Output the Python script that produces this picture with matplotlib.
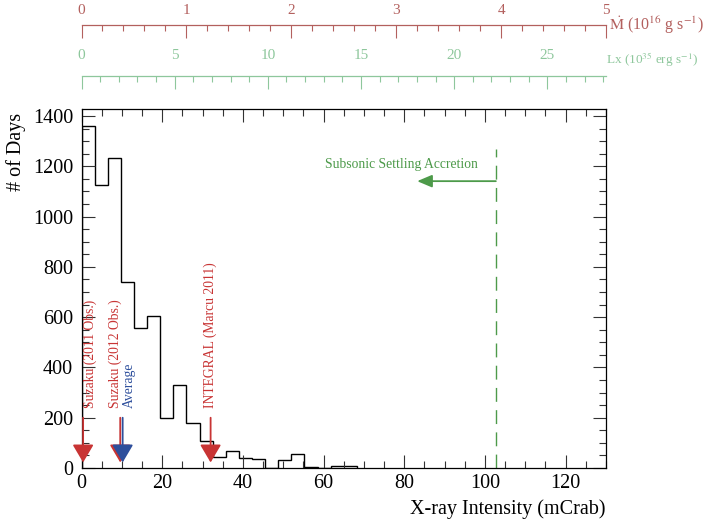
import numpy as np
import matplotlib
matplotlib.use("Agg")
import matplotlib.pyplot as plt
from matplotlib.ticker import MultipleLocator

plt.rcParams['font.family'] = ['Liberation Serif', 'DejaVu Serif']
plt.rcParams['mathtext.fontset'] = 'stix'

# ---- data ----
bin_width = 3.25
counts = [1360, 1124, 1232, 738, 558, 606, 200, 331, 178, 109,
          45, 69, 41, 36, 0, 33, 57, 2, 0, 9, 9]
edges = np.arange(len(counts) + 1) * bin_width

obs_x = [0.4, 9.6, 10.2, 32.0]
obs_labels = ["Suzaku (2011 Obs.)", "Suzaku (2012 Obs.)", "Average", "INTEGRAL (Marcu 2011)"]
obs_colors = ["#c83434", "#c83434", "#2e4f9c", "#c83434"]
obs_text_x = [2.2, 8.4, 11.9, 31.8]
arrow_tail_y = 200
arrow_tip_y = 22
text_bottom_y = 240

subsonic_limit = 102.7
subsonic_top = 1268
subsonic_arrow_y = 1141
subsonic_arrow_end = 83.2
subsonic_text = "Subsonic Settling Accretion"
subsonic_text_y = 1209

xlim = (0, 130)
ylim = (0, 1428)
mdot_lim = (0, 5)
lx_lim = (0, 28.15)

red_axis = "#b3605e"
green_axis = "#8ec79c"
green = "#4d9a4a"

fig = plt.figure(figsize=(7.03, 5.29), dpi=100)
L, R = 81.5 / 703, 606 / 703
B, T = 1 - 468 / 529, 1 - 109 / 529
ax = fig.add_axes([L, B, R - L, T - B])

ax.stairs(counts, edges, color='black', lw=1.0, baseline=0)
ax.set_xlim(*xlim)
ax.set_ylim(*ylim)
ax.xaxis.set_major_locator(MultipleLocator(20))
ax.xaxis.set_minor_locator(MultipleLocator(5))
ax.yaxis.set_major_locator(MultipleLocator(200))
ax.yaxis.set_minor_locator(MultipleLocator(50))
ax.tick_params(which='both', direction='in', top=True, right=True, width=0.8,
               labelsize=14.5, color='#333333')
ax.tick_params(which='major', length=9.4)
ax.tick_params(which='minor', length=5)
ax.tick_params(axis='x', pad=4.5)
ax.tick_params(axis='y', pad=6)
for s in ax.spines.values():
    s.set_linewidth(0.9)

# observation arrows
for x, lab, c, tx in zip(obs_x, obs_labels, obs_colors, obs_text_x):
    ax.annotate('', xy=(x, arrow_tip_y), xytext=(x, arrow_tail_y),
                arrowprops=dict(arrowstyle='-|>,head_length=11,head_width=6.5',
                                mutation_scale=1, color=c, lw=1.3,
                                shrinkA=0, shrinkB=0))
    ax.text(tx, text_bottom_y, lab, rotation=90, color=c, fontsize=9.8,
            ha='center', va='bottom')

# subsonic settling accretion
ax.vlines(subsonic_limit, 0, subsonic_top, color=green, lw=1.0,
          linestyles=(0, (10, 6)))
ax.annotate('', xy=(subsonic_arrow_end, subsonic_arrow_y),
            xytext=(subsonic_limit, subsonic_arrow_y),
            arrowprops=dict(arrowstyle='-|>,head_length=9,head_width=3.8',
                            mutation_scale=1, color=green, lw=1.3,
                            shrinkA=0, shrinkB=0))
ax.text(98.2, subsonic_text_y, subsonic_text, color=green, fontsize=9.8,
        ha='right', va='center')

fig.text(R, 1 - 509 / 529, "X-ray Intensity (mCrab)", ha='right', va='center',
         fontsize=14.5)
fig.text(16 / 703, 1 - 152 / 529, "# of Days", rotation=90, ha='center',
         va='center', fontsize=14.5)

# top axes: Mdot and Lx
def top_axis(yline, lim, major, minor, color, pad, majlen, minlen):
    h = 0.01
    a = fig.add_axes([L, yline - h, R - L, h])
    a.set_xlim(*lim)
    a.set_yticks([])
    for k in ['left', 'right', 'bottom']:
        a.spines[k].set_visible(False)
    a.spines['top'].set_color(color)
    a.spines['top'].set_linewidth(0.9)
    a.patch.set_visible(False)
    a.xaxis.tick_top()
    a.xaxis.set_major_locator(MultipleLocator(major))
    a.xaxis.set_minor_locator(MultipleLocator(minor))
    a.tick_params(which='both', direction='in', colors=color, labelsize=11,
                  width=0.8, pad=pad)
    a.tick_params(which='major', length=majlen)
    a.tick_params(which='minor', length=minlen)
    return a

y_m = 1 - 25 / 529
y_l = 1 - 76 / 529
ax_m = top_axis(y_m, mdot_lim, 1, 0.2, red_axis, 5.5, 9, 4.5)
ax_l = top_axis(y_l, lx_lim, 5, 1, green_axis, 10.0, 9.5, 4.5)

fig.text(R + 3 / 703, y_m, r'$\dot{\rm M}$ (10$^{16}$ g s$^{-1}$)', color=red_axis,
         fontsize=11.5, ha='left', va='center')
fig.text(R, 1 - 60 / 529, r'Lx (10$^{35}$ erg s$^{-1}$)', color=green_axis,
         fontsize=9.5, ha='left', va='center')

fig.savefig("out.png", dpi=100)
